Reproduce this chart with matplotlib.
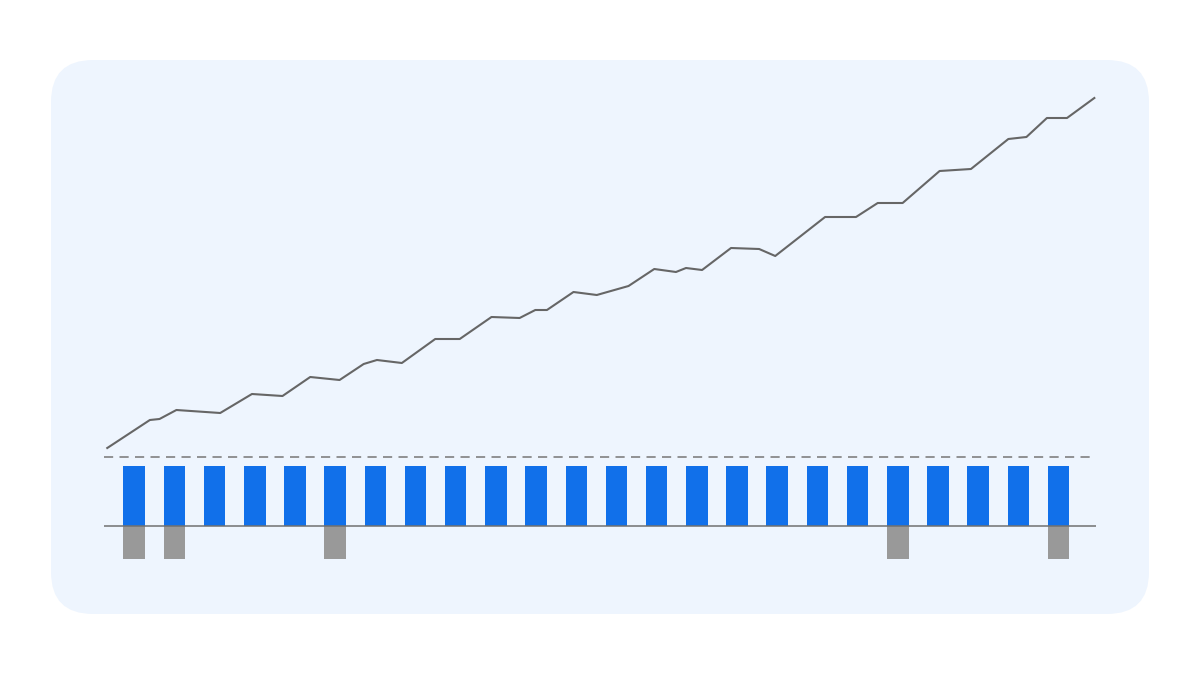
import matplotlib.pyplot as plt
from matplotlib.patches import FancyBboxPatch

# bar series: one bar per period, some periods have a negative part
periods = list(range(24))
pos_values = [60] * 24
neg_values = [-33, -33, 0, 0, 0, -33, 0, 0, 0, 0, 0, 0,
              0, 0, 0, 0, 0, 0, 0, -33, 0, 0, 0, -33]

# running total line (x in period units)
line_x = [-0.67, 0.39, 0.63, 1.05, 2.14, 2.93, 3.69, 4.38, 5.11, 5.71,
          6.04, 6.66, 7.49, 8.10, 8.89, 9.59, 9.98, 10.27, 10.93, 11.51,
          12.30, 12.94, 13.48, 13.73, 14.13, 14.85, 15.55, 15.95, 17.19, 17.96,
          18.50, 19.12, 20.04, 20.82, 21.75, 22.20, 22.71, 23.21, 23.89]
line_y = [78, 106, 107, 116, 113, 132, 130, 149, 146, 162,
          166, 163, 187, 187, 209, 208, 216, 216, 234, 231,
          240, 257, 254, 258, 256, 278, 277, 270, 309, 309,
          323, 323, 355, 357, 387, 389, 408, 408, 428]

target = 69

fig = plt.figure(figsize=(12, 6.75), dpi=100)
fig.patch.set_facecolor('white')

# rounded card behind the chart
card = FancyBboxPatch((51 / 1200, 1 - 614 / 675), 1098 / 1200, 554 / 675,
                      boxstyle='round,pad=0,rounding_size=0.035',
                      transform=fig.transFigure, facecolor='#eef5fe',
                      edgecolor='none', mutation_aspect=1200 / 675,
                      zorder=-1)
fig.patches.append(card)

ax = fig.add_axes([51 / 1200, 1 - 614 / 675, 1098 / 1200, 554 / 675])
ax.set_facecolor('none')
ax.set_xlim(-2.07, 25.25)
ax.set_ylim(-88, 466)
ax.axis('off')

ax.bar(periods, pos_values, width=0.535, color='#1170ea', zorder=2)
ax.bar(periods, neg_values, width=0.535, color='#999999', zorder=2)

ax.hlines(0, -0.74, 23.93, color='#707070', linewidth=1.1, zorder=3)
ax.hlines(target, -0.74, 23.93, color='#808080', linewidth=1.2,
          linestyles=(0, (5.5, 3.8)), zorder=3)

ax.plot(line_x, line_y, color='#666666', linewidth=1.5, zorder=4)

fig.savefig('out.png', dpi=100)
